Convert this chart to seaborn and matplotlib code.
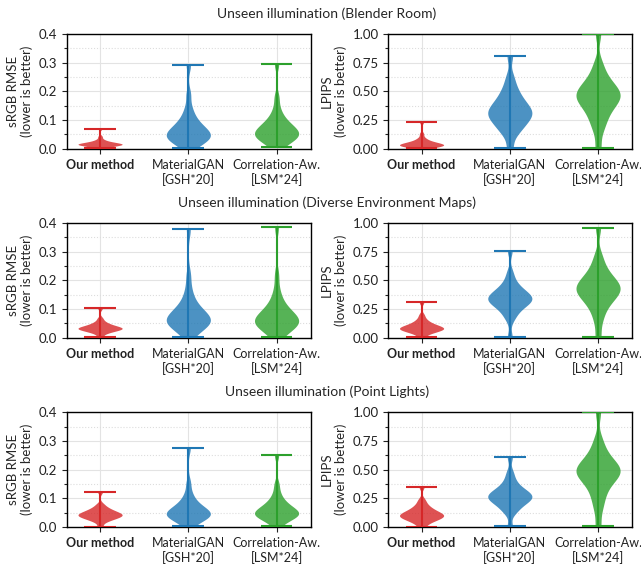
import numpy as np
import pandas as pd
import matplotlib
matplotlib.use('Agg')
import matplotlib.pyplot as plt
from matplotlib.ticker import MultipleLocator, FormatStrFormatter
import seaborn as sns

# ------------------------------------------------------------
# Data: per-scene error samples (quantiles)
# ------------------------------------------------------------
methods = ['Our method', 'MaterialGAN\n[GSH*20]', 'Correlation-Aw.\n[LSM*24]']
scenes = ['Unseen illumination (Blender Room)',
          'Unseen illumination (Diverse Environment Maps)',
          'Unseen illumination (Point Lights)']

# Blender Room
room_rmse_ours = [0.002, 0.006, 0.008, 0.010, 0.011, 0.012, 0.013, 0.014, 0.015, 0.015, 0.016,
                  0.017, 0.018, 0.019, 0.020, 0.022, 0.024, 0.027, 0.032, 0.042, 0.070]
room_rmse_mgan = [0.003, 0.015, 0.022, 0.028, 0.033, 0.037, 0.041, 0.045, 0.049, 0.053, 0.058,
                  0.063, 0.068, 0.075, 0.083, 0.092, 0.104, 0.120, 0.145, 0.190, 0.290]
room_rmse_corr = [0.004, 0.018, 0.026, 0.032, 0.037, 0.041, 0.045, 0.049, 0.053, 0.057, 0.061,
                  0.066, 0.071, 0.077, 0.084, 0.092, 0.102, 0.116, 0.140, 0.180, 0.295]
room_lpips_ours = [0.002, 0.010, 0.015, 0.019, 0.022, 0.025, 0.028, 0.030, 0.032, 0.035, 0.038,
                   0.041, 0.044, 0.048, 0.053, 0.059, 0.067, 0.078, 0.095, 0.130, 0.230]
room_lpips_mgan = [0.005, 0.12, 0.16, 0.19, 0.22, 0.24, 0.26, 0.28, 0.295, 0.31, 0.325,
                   0.34, 0.36, 0.38, 0.40, 0.43, 0.46, 0.50, 0.55, 0.63, 0.81]
room_lpips_corr = [0.005, 0.15, 0.22, 0.27, 0.31, 0.35, 0.38, 0.40, 0.42, 0.44, 0.46,
                   0.47, 0.49, 0.51, 0.53, 0.55, 0.58, 0.62, 0.67, 0.75, 1.00]

# Diverse environment maps
env_rmse_ours = [0.003, 0.015, 0.020, 0.023, 0.025, 0.027, 0.029, 0.031, 0.032, 0.033, 0.034,
                 0.035, 0.037, 0.039, 0.041, 0.044, 0.047, 0.051, 0.057, 0.068, 0.103]
env_rmse_mgan = [0.003, 0.025, 0.033, 0.040, 0.045, 0.050, 0.054, 0.058, 0.062, 0.066, 0.071,
                 0.076, 0.082, 0.089, 0.097, 0.107, 0.120, 0.140, 0.170, 0.220, 0.378]
env_rmse_corr = [0.003, 0.022, 0.031, 0.038, 0.043, 0.047, 0.051, 0.055, 0.059, 0.063, 0.067,
                 0.072, 0.078, 0.085, 0.093, 0.103, 0.116, 0.135, 0.165, 0.220, 0.387]
env_lpips_ours = [0.005, 0.035, 0.047, 0.055, 0.062, 0.067, 0.072, 0.076, 0.080, 0.084, 0.088,
                  0.093, 0.098, 0.104, 0.111, 0.120, 0.130, 0.145, 0.165, 0.200, 0.310]
env_lpips_mgan = [0.005, 0.16, 0.21, 0.24, 0.27, 0.29, 0.30, 0.315, 0.325, 0.335, 0.345,
                  0.355, 0.365, 0.38, 0.395, 0.41, 0.43, 0.46, 0.50, 0.57, 0.76]
env_lpips_corr = [0.005, 0.14, 0.22, 0.27, 0.31, 0.34, 0.36, 0.38, 0.40, 0.415, 0.43,
                  0.445, 0.46, 0.48, 0.50, 0.52, 0.55, 0.59, 0.64, 0.72, 0.96]

# Point lights
pt_rmse_ours = [0.001, 0.018, 0.024, 0.028, 0.031, 0.034, 0.036, 0.038, 0.040, 0.042, 0.044,
                0.046, 0.048, 0.050, 0.053, 0.056, 0.060, 0.064, 0.070, 0.080, 0.123]
pt_rmse_mgan = [0.002, 0.018, 0.025, 0.030, 0.034, 0.037, 0.040, 0.043, 0.046, 0.049, 0.052,
                0.056, 0.060, 0.065, 0.071, 0.078, 0.088, 0.100, 0.120, 0.155, 0.275]
pt_rmse_corr = [0.002, 0.020, 0.027, 0.032, 0.036, 0.039, 0.042, 0.045, 0.048, 0.051, 0.054,
                0.058, 0.062, 0.067, 0.073, 0.080, 0.089, 0.100, 0.120, 0.150, 0.250]
pt_lpips_ours = [0.001, 0.035, 0.050, 0.062, 0.071, 0.078, 0.085, 0.091, 0.097, 0.103, 0.109,
                 0.115, 0.122, 0.130, 0.140, 0.150, 0.165, 0.180, 0.205, 0.240, 0.350]
pt_lpips_mgan = [0.005, 0.12, 0.15, 0.18, 0.20, 0.215, 0.23, 0.24, 0.25, 0.26, 0.27,
                 0.28, 0.29, 0.30, 0.315, 0.33, 0.35, 0.38, 0.42, 0.48, 0.61]
pt_lpips_corr = [0.005, 0.15, 0.23, 0.29, 0.34, 0.38, 0.41, 0.43, 0.45, 0.47, 0.48,
                 0.50, 0.51, 0.53, 0.55, 0.57, 0.60, 0.64, 0.69, 0.77, 1.00]

rmse_sets = [[room_rmse_ours, room_rmse_mgan, room_rmse_corr],
             [env_rmse_ours, env_rmse_mgan, env_rmse_corr],
             [pt_rmse_ours, pt_rmse_mgan, pt_rmse_corr]]
lpips_sets = [[room_lpips_ours, room_lpips_mgan, room_lpips_corr],
              [env_lpips_ours, env_lpips_mgan, env_lpips_corr],
              [pt_lpips_ours, pt_lpips_mgan, pt_lpips_corr]]

line_colors = ['#d62728', '#1f77b4', '#2ca02c']

# ------------------------------------------------------------
# Style
# ------------------------------------------------------------
sns.set_style('white')
plt.rcParams['font.family'] = ['Lato', 'DejaVu Sans']
plt.rcParams['font.size'] = 9.5
plt.rcParams['axes.linewidth'] = 1.0
plt.rcParams['axes.edgecolor'] = 'black'
plt.rcParams['xtick.bottom'] = True
plt.rcParams['ytick.left'] = True
plt.rcParams['xtick.color'] = '#222222'
plt.rcParams['ytick.color'] = '#222222'


def draw_panel(ax, samples, ylabel, ymax, step, fmt):
    df = pd.DataFrame({
        'method': np.repeat(methods, [len(s) for s in samples]),
        'value': np.concatenate(samples),
    })
    sns.violinplot(data=df, x='method', y='value', hue='method', order=methods,
                   hue_order=methods, palette=line_colors, saturation=1,
                   width=0.5, density_norm='width', cut=0, inner=None,
                   bw_adjust=0.6, linewidth=0, alpha=0.8, legend=False, ax=ax)
    # extrema markers like matplotlib's showextrema
    for i, s in enumerate(samples):
        lo, hi = min(s), max(s)
        ax.vlines(i, lo, hi, color=line_colors[i], lw=1.5, zorder=3)
        ax.hlines([lo, hi], i - 0.18, i + 0.18, color=line_colors[i], lw=1.5, zorder=3)

    ax.set_xlim(-0.375, 2.385)
    ax.set_ylim(0, ymax)
    ax.yaxis.set_major_locator(MultipleLocator(step))
    ax.yaxis.set_minor_locator(MultipleLocator(step / 2))
    ax.yaxis.set_major_formatter(FormatStrFormatter(fmt))
    ax.grid(True, which='major', color='#e3e3e3', lw=0.8)
    ax.grid(True, which='minor', axis='y', color='#dddddd', lw=0.8, linestyle=':')
    ax.set_axisbelow(True)
    ax.tick_params(axis='both', which='major', length=3.5, width=0.8)
    ax.tick_params(axis='x', which='major', labelsize=9, pad=4)
    ax.tick_params(axis='y', which='minor', length=2, width=0.8)
    ax.set_xlabel('')
    ax.set_ylabel(ylabel, fontsize=9.5, labelpad=4, linespacing=1.15)
    for sp in ax.spines.values():
        sp.set_visible(True)
        sp.set_color('black')
    ax.set_xticks(range(len(methods)))
    ax.set_xticklabels(methods, fontsize=9, linespacing=1.2)
    ax.get_xticklabels()[0].set_fontweight('bold')


fig, axes = plt.subplots(3, 2, figsize=(6.41, 5.65), dpi=100)
fig.subplots_adjust(left=0.1045, right=0.986, top=0.940, bottom=0.0673,
                    wspace=0.32, hspace=0.65)

for r in range(3):
    draw_panel(axes[r, 0], rmse_sets[r], 'sRGB RMSE\n(lower is better)', 0.4, 0.1, '%.1f')
    draw_panel(axes[r, 1], lpips_sets[r], 'LPIPS\n(lower is better)', 1.0, 0.25, '%.2f')

title_y = [0.975, 0.641, 0.306]
for r in range(3):
    fig.text(0.51, title_y[r], scenes[r], ha='center', va='center', fontsize=10)

plt.savefig('out.png', dpi=100)
plt.close()
